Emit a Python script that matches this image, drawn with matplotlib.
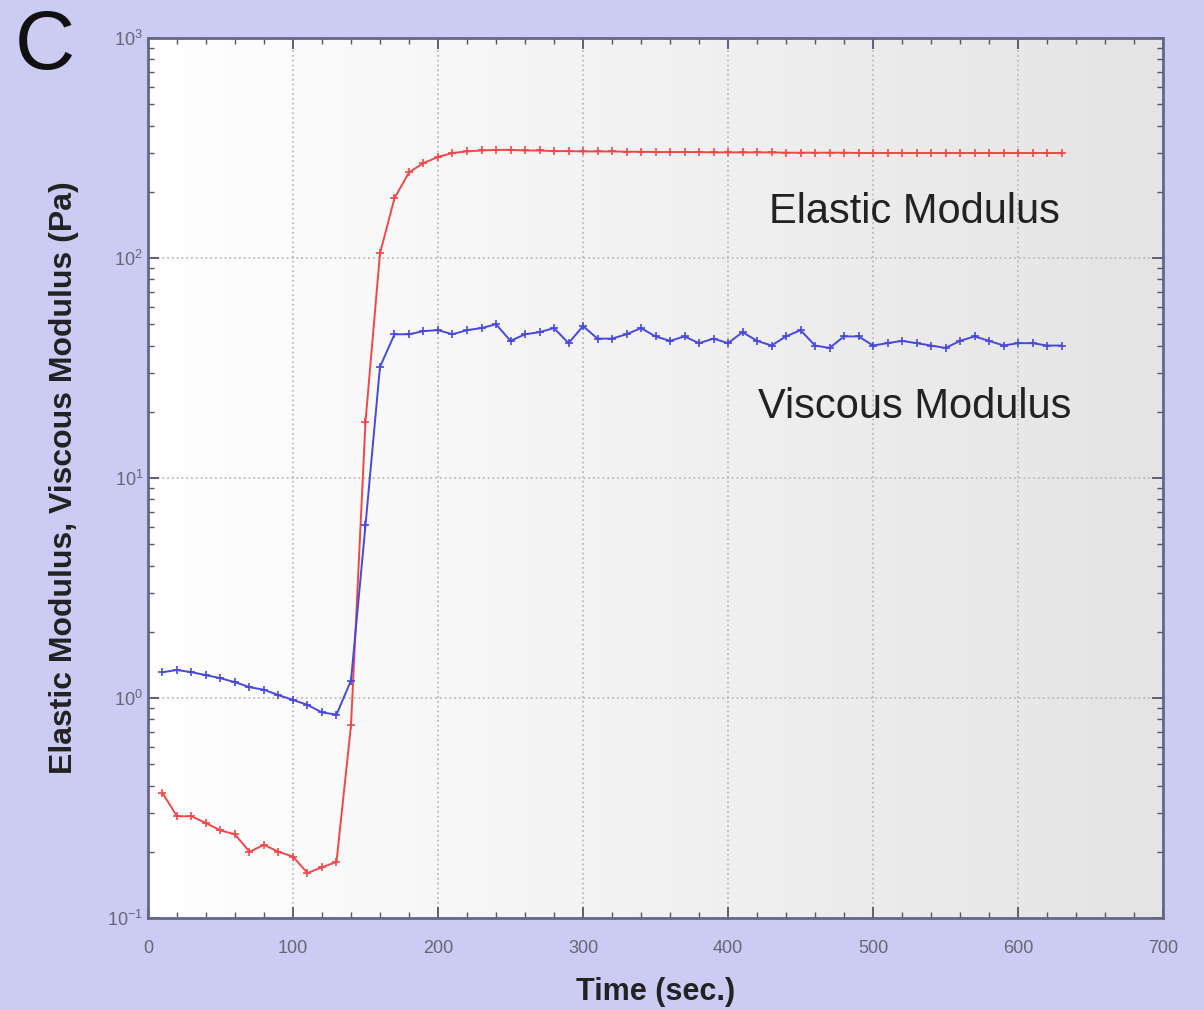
import numpy as np
import matplotlib
matplotlib.use("Agg")
from matplotlib import pyplot as plt
from matplotlib.ticker import LogLocator, MultipleLocator, NullFormatter

plt.rcParams['font.family'] = ['Liberation Sans', 'DejaVu Sans']

# time in seconds, one reading every 10 s
t = list(range(10, 640, 10))

elastic = [0.37, 0.29, 0.29, 0.27, 0.25, 0.24, 0.20, 0.215, 0.20, 0.19,
           0.16, 0.17, 0.18, 0.75, 18, 105, 187, 245, 270, 288,
           300, 305, 308, 310, 310, 308, 308, 306, 306, 305,
           305, 305, 304, 304, 303, 303, 303, 303, 302, 302,
           302, 302, 302, 301, 301, 301, 301, 301, 300, 300,
           300, 300, 300, 300, 300, 300, 300, 300, 300, 300,
           300, 300, 300]

viscous = [1.31, 1.34, 1.31, 1.27, 1.23, 1.18, 1.12, 1.09, 1.03, 0.98,
           0.93, 0.86, 0.84, 1.2, 6.1, 32, 45, 45, 46.5, 47,
           45, 47, 48, 50, 42, 45, 46, 48, 41, 49,
           43, 43, 45, 48, 44, 42, 44, 41, 43, 41,
           46, 42, 40, 44, 47, 40, 39, 44, 44, 40,
           41, 42, 41, 40, 39, 42, 44, 42, 40, 41,
           41, 40, 40]

bg = '#cbcbf3'
fig = plt.figure(figsize=(12.04, 10.10), dpi=100, facecolor=bg)
ax = fig.add_axes([0.1229, 0.0911, 0.8431, 0.8713])
ax.set_yscale('log')
ax.set_xlim(0, 700)
ax.set_ylim(0.1, 1000)

# white-to-gray gradient inside the plot box
grad = np.linspace(0, 1, 256).reshape(1, -1)
ax.imshow(grad, cmap=matplotlib.colors.LinearSegmentedColormap.from_list('g', ['#ffffff', '#e4e4e4']),
          extent=[0, 1, 0, 1], transform=ax.transAxes, aspect='auto', zorder=0)

ax.plot(t, elastic, color='#f04848', lw=1.4, marker='+', ms=6, mew=1.2, zorder=3)
ax.plot(t, viscous, color='#4848dd', lw=1.4, marker='+', ms=6, mew=1.2, zorder=3)

ax.grid(True, which='major', color='#bbbbbb', ls=':', lw=1.3, zorder=1)
ax.xaxis.set_major_locator(MultipleLocator(100))
ax.xaxis.set_minor_locator(MultipleLocator(20))
ax.yaxis.set_major_locator(LogLocator(base=10))
ax.yaxis.set_minor_locator(LogLocator(base=10, subs=np.arange(2, 10)))
ax.yaxis.set_minor_formatter(NullFormatter())
ax.tick_params(which='both', direction='in', top=True, right=True, colors='#555566',
               labelcolor='#666677', labelsize=13)
ax.tick_params(which='major', length=8, width=1.3)
ax.tick_params(which='minor', length=4, width=1.0)
ax.tick_params(axis='x', which='major', pad=16)
for s in ax.spines.values():
    s.set_color('#666688')
    s.set_linewidth(2)

ax.set_xlabel('Time (sec.)', fontsize=22, fontweight='bold', color='#222222', labelpad=14)
ax.set_ylabel('Elastic Modulus, Viscous Modulus (Pa)', fontsize=23, fontweight='bold',
              color='#222222', labelpad=20)

ax.text(0.755, 0.802, 'Elastic Modulus', transform=ax.transAxes, fontsize=30,
        color='#222222', ha='center', va='center')
ax.text(0.755, 0.581, 'Viscous Modulus', transform=ax.transAxes, fontsize=30,
        color='#222222', ha='center', va='center')
fig.text(0.037, 0.953, 'C', fontsize=60, color='#111111', ha='center', va='center')

fig.savefig('out.png', dpi=100, facecolor=bg)
